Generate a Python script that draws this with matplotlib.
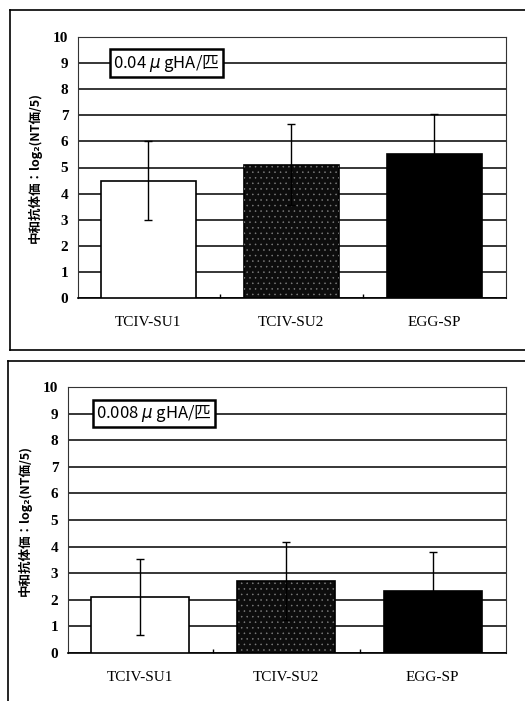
import matplotlib
matplotlib.use("Agg")
import matplotlib.pyplot as plt
from matplotlib.lines import Line2D

# data
categories = ['TCIV-SU1', 'TCIV-SU2', 'EGG-SP']
top_means = [4.5, 5.1, 5.5]
top_err = [1.5, 1.55, 1.55]
bottom_means = [2.1, 2.7, 2.33]
bottom_err = [1.43, 1.47, 1.47]
dose_labels = ['0.04 $\\mu$ gHA/匹', '0.008 $\\mu$ gHA/匹']
yticks = list(range(0, 11))

cjk = ['Noto Sans CJK JP', 'DejaVu Sans']
ylab = '中和抗体価：log₂(NT価/5)'

plt.rcParams['hatch.linewidth'] = 0.35

fig = plt.figure(figsize=(5.25, 7.01), dpi=100)
W, H = 525, 701

def px(x0, y0, x1, y1):
    return [x0 / W, 1 - y1 / H, (x1 - x0) / W, (y1 - y0) / H]

# outer panel frames (right side runs off the page)
fig.add_artist(Line2D([10/W, 10/W], [1-10/H, 1-350/H], color='black', lw=1.2))
fig.add_artist(Line2D([10/W, 1], [1-10/H, 1-10/H], color='black', lw=1.2))
fig.add_artist(Line2D([10/W, 1], [1-350/H, 1-350/H], color='black', lw=1.2))
fig.add_artist(Line2D([8/W, 8/W], [1-361/H, 0], color='black', lw=1.2))
fig.add_artist(Line2D([8/W, 1], [1-361/H, 1-361/H], color='black', lw=1.2))

def panel(rect, means, errs, label, box_x, bw):
    ax = fig.add_axes(rect)
    x = range(len(categories))
    # plain white / speckled dark / solid black bars
    ax.bar(0, means[0], width=bw, color='white', edgecolor='black', lw=1.2, zorder=3)
    ax.bar(1, means[1], width=bw, color='#0d0d0d', edgecolor='black', lw=1.2, zorder=3)
    ax.bar(1, means[1], width=bw, fill=False, hatch='...', edgecolor='#808080', lw=0, zorder=3.5)
    ax.bar(2, means[2], width=bw, color='black', edgecolor='black', lw=1.2, zorder=3)
    ax.errorbar(x, means, yerr=errs, fmt='none', ecolor='black', elinewidth=1.0,
                capsize=3, capthick=1.0, zorder=4)
    ax.set_ylim(0, 10)
    ax.set_xlim(-0.49, 2.5)
    ax.set_yticks(yticks)
    ax.set_yticklabels([str(t) for t in yticks], family='Liberation Serif',
                       fontweight='bold', fontsize=11)
    ax.yaxis.grid(True, color='black', lw=1.1)
    ax.set_axisbelow(True)
    ax.tick_params(axis='y', length=0, pad=7)
    ax.set_xticks(list(x))
    ax.set_xticklabels(categories, family='Liberation Serif', fontsize=11)
    ax.tick_params(axis='x', length=0, pad=13)
    ax.set_xticks([0.5, 1.5], minor=True)
    ax.tick_params(axis='x', which='minor', direction='in', length=3, width=1)
    for s in ax.spines.values():
        s.set_linewidth(0.8)
        s.set_color('#333333')
    ax.spines['bottom'].set_linewidth(1.2)
    ax.spines['bottom'].set_color('black')
    ax.set_ylabel(ylab, family=cjk, fontweight='bold', fontsize=9, labelpad=8)
    ax.text(box_x, 9, label, transform=ax.get_yaxis_transform(), family=cjk,
            fontsize=12, va='center', ha='left', zorder=6,
            bbox=dict(boxstyle='square,pad=0.2', fc='white', ec='black', lw=1.8))
    return ax

panel(px(78, 37, 506, 298), top_means, top_err, dose_labels[0], 0.082, 0.665)
panel(px(68, 387, 506, 653), bottom_means, bottom_err, dose_labels[1], 0.064, 0.67)

fig.savefig('out.png', dpi=100)
